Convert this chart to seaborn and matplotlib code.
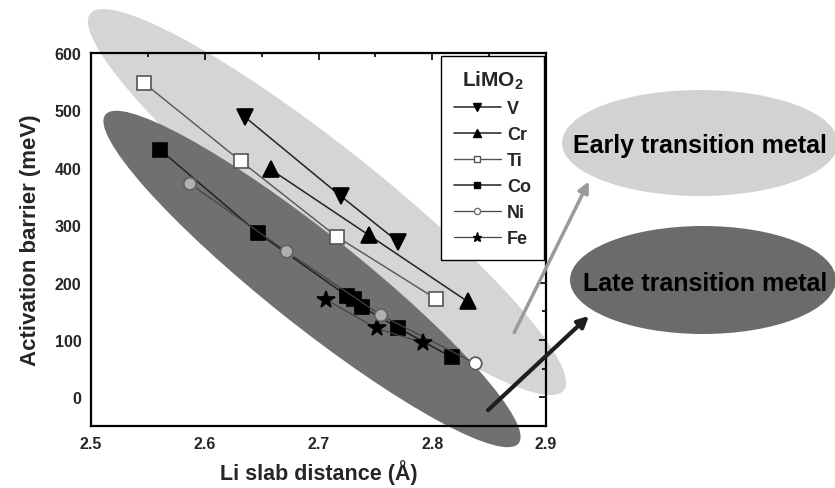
import matplotlib
matplotlib.use("Agg")
import matplotlib.pyplot as plt
import matplotlib.transforms as mtransforms
from matplotlib.patches import Ellipse, FancyArrowPatch
from matplotlib.lines import Line2D
from matplotlib.ticker import MultipleLocator
import seaborn as sns

# Li slab distance (Å) and activation barrier (meV) for each LiMO2
metals = ["V", "Cr", "Ti", "Co", "Ni", "Fe"]
v_x = [2.635, 2.720, 2.770]
v_y = [489, 350, 271]
cr_x = [2.658, 2.744, 2.831]
cr_y = [397, 283, 167]
ti_x = [2.547, 2.632, 2.716, 2.803]
ti_y = [547, 411, 280, 172]
co_x = [2.561, 2.647, 2.725, 2.731, 2.738, 2.770, 2.817]
co_y = [431, 286, 177, 171, 158, 121, 70]
ni_x = [2.587, 2.672, 2.755, 2.838]
ni_y = [372, 254, 143, 59]
fe_x = [2.707, 2.751, 2.792]
fe_y = [170, 120, 95]

x_ticks = [2.5, 2.6, 2.7, 2.8, 2.9]
y_ticks = [0, 100, 200, 300, 400, 500, 600]

series = {"V": (v_x, v_y), "Cr": (cr_x, cr_y), "Ti": (ti_x, ti_y),
          "Co": (co_x, co_y), "Ni": (ni_x, ni_y), "Fe": (fe_x, fe_y)}

styles = {
    "V":  dict(marker="v", ms=12, mfc="black", mec="black", color="#222222", lw=1.1, ls="-"),
    "Cr": dict(marker="^", ms=12, mfc="black", mec="black", color="#222222", lw=1.1, ls="-"),
    "Ti": dict(marker="s", ms=9.5, mfc="white", mec="#555555", color="#555555", lw=1.0, ls="-"),
    "Co": dict(marker="s", ms=9.5, mfc="black", mec="black", color="#222222", lw=1.1, ls="-"),
    "Ni": dict(marker="o", ms=9, mfc="#b0b0b0", mec="#707070", color="#444444", lw=0.9, ls="-"),
    "Fe": dict(marker="*", ms=13, mfc="black", mec="black", color="#444444", lw=0.9, ls="-"),
}
ni_face = ["#b0b0b0", "#b0b0b0", "#b0b0b0", "white"]

sns.set_theme(style="white")
plt.rcParams["font.family"] = ["Liberation Sans", "DejaVu Sans"]
plt.rcParams["font.weight"] = "bold"
plt.rcParams["mathtext.fontset"] = "custom"
plt.rcParams["mathtext.rm"] = "Liberation Sans"
plt.rcParams["mathtext.bf"] = "Liberation Sans:bold"

W, H = 835, 489
fig = plt.figure(figsize=(W / 100, H / 100), dpi=100)
fig.patch.set_facecolor("white")
# pixel coordinates measured from the top-left corner of the figure
px = mtransforms.Affine2D().scale(1, -1).translate(0, H)

ax = fig.add_axes([91 / W, 1 - 427 / H, 455 / W, 373 / H])
ax.set_facecolor("none")

# shaded bands behind the data
fig.add_artist(Ellipse((327, 203), 605, 108, angle=38.5, transform=px,
                       facecolor="#d5d5d5", edgecolor="none", zorder=-2))
fig.add_artist(Ellipse((312, 280), 528, 92, angle=38.5, transform=px,
                       facecolor="#707070", edgecolor="none", zorder=-1))

for m in metals:
    xs, ys = series[m]
    st = styles[m]
    sns.lineplot(x=xs, y=ys, ax=ax, sort=False, estimator=None,
                 color=st["color"], lw=st["lw"], ls=st["ls"],
                 marker=st["marker"], markersize=st["ms"],
                 markerfacecolor=st["mfc"], markeredgecolor=st["mec"],
                 markeredgewidth=1.2, zorder=3)

# Ni markers: the last compound is drawn as an open circle
sns.scatterplot(x=ni_x, y=ni_y, ax=ax, marker="o", s=80,
                facecolor=ni_face, edgecolor="#606060", linewidth=1.2, zorder=4)

ax.set_xlim(2.5, 2.9)
ax.set_ylim(-50, 600)
ax.set_xticks(x_ticks)
ax.set_yticks(y_ticks)
ax.set_xticklabels([f"{t:.1f}" for t in x_ticks])
ax.set_yticklabels([str(t) for t in y_ticks])
ax.xaxis.set_minor_locator(MultipleLocator(0.05))
ax.yaxis.set_minor_locator(MultipleLocator(50))
ax.tick_params(which="both", direction="in", top=True, right=True,
               color="black", width=1.2)
ax.tick_params(which="major", length=5, labelsize=11.5, pad=7)
ax.tick_params(which="minor", length=3)
for lab in ax.get_xticklabels() + ax.get_yticklabels():
    lab.set_fontweight("bold")
for sp in ax.spines.values():
    sp.set_visible(True)
    sp.set_color("black")
    sp.set_linewidth(1.6)

ax.set_xlabel("Li slab distance (Å)", fontsize=15.5, fontweight="bold", labelpad=6)
ax.set_ylabel("Activation barrier (meV)", fontsize=16, fontweight="bold", labelpad=10)

handles = []
for m in metals:
    st = styles[m]
    handles.append(Line2D([], [], color=st["color"], lw=st["lw"], ls=st["ls"],
                          marker=st["marker"], markersize=st["ms"] * 0.5,
                          markerfacecolor=st["mfc"] if m != "Ni" else "white",
                          markeredgecolor=st["mec"], markeredgewidth=1.0))
leg = ax.legend(handles, metals, title=r"LiMO$_\mathbf{2}$", loc="upper right",
                bbox_to_anchor=(0.995, 0.992), frameon=True, fancybox=False,
                edgecolor="black", framealpha=1, facecolor="white",
                prop=dict(size=13, weight="bold"), handlelength=2.6,
                handletextpad=0.35, labelspacing=0.5, borderpad=0.7,
                borderaxespad=0.0, numpoints=1)
leg.get_title().set_fontsize(15)
leg.get_title().set_fontweight("bold")
leg.get_frame().set_linewidth(1.0)
leg.set_zorder(6)

# category labels on the right
fig.add_artist(Ellipse((700, 144), 276, 106, transform=px,
                       facecolor="#d2d2d2", edgecolor="none", zorder=-1))
fig.add_artist(Ellipse((703, 281), 266, 108, transform=px,
                       facecolor="#6b6b6b", edgecolor="none", zorder=-1))
fig.text(700, 146, "Early transition metal", transform=px, ha="center",
         va="center", fontsize=18, fontweight="bold", color="black")
fig.text(705, 284, "Late transition metal", transform=px, ha="center",
         va="center", fontsize=18, fontweight="bold", color="black")

fig.add_artist(FancyArrowPatch((513, 336), (590, 180), transform=px,
                               arrowstyle="-|>", mutation_scale=16, lw=2.5,
                               color="#9a9a9a", zorder=5))
fig.add_artist(FancyArrowPatch((486, 413), (591, 315), transform=px,
                               arrowstyle="-|>", mutation_scale=16, lw=3,
                               color="#1e1e1e", zorder=5))

fig.savefig("out.png", dpi=100)
